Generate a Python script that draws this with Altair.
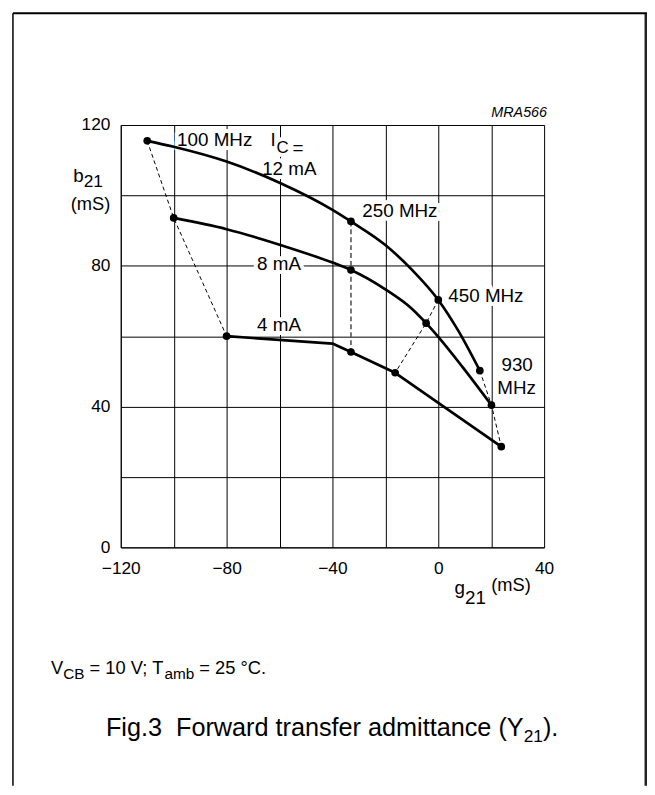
import altair as alt
import pandas as pd

FONT = "Liberation Sans"

# ---------------- data ----------------
ic_names = ["12 mA", "8 mA", "4 mA"]

# traced curves (g21 [mS], b21 [mS])
c12_g = [-110, -100, -80, -60, -40, -33, -20, -10, 0, 7.6, 15.7]
c12_b = [115.5, 113.8, 109.6, 103.6, 95.9, 92.6, 85.9, 78.9, 70.3, 61.5, 50.2]
c8_g = [-100, -80, -60, -40, -33, -20, -10, -4.6, 0, 8.9, 20.1]
c8_b = [93.6, 90.4, 86.0, 80.9, 78.8, 73.3, 67.8, 63.7, 59.8, 51.5, 40.4]
c4_g = [-80, -40, -33, -16.3, 23.8]
c4_b = [60.0, 57.9, 55.5, 49.6, 28.6]

# measured frequency points
freqs = ["100 MHz", "250 MHz", "450 MHz", "930 MHz"]
p12_g = [-110, -33, 0, 15.7]
p12_b = [115.5, 92.6, 70.3, 50.2]
p8_g = [-100, -33, -4.6, 20.1]
p8_b = [93.6, 78.8, 63.7, 40.4]
p4_g = [-80, -33, -16.3, 23.8]
p4_b = [60.0, 55.5, 49.6, 28.6]

x_grid = [-120, -100, -80, -60, -40, -20, 0, 20, 40]
y_grid = [0, 20, 40, 60, 80, 100, 120]

lbl_text = ["100 MHz", "12 mA", "8 mA", "4 mA", "250 MHz", "450 MHz", "930", "MHz"]
lbl_g = [-84.5, -56.3, -60.2, -60.2, -14.5, 18.0, 29.8, 29.6]
lbl_b = [115.6, 107.6, 80.5, 63.2, 95.6, 71.3, 51.7, 45.3]

# ---------------- tables ----------------
curve_rows = []
for name, gs, bs in [("12 mA", c12_g, c12_b), ("8 mA", c8_g, c8_b)]:
    for i, (g, b) in enumerate(zip(gs, bs)):
        curve_rows.append({"ic": name, "seq": i, "g": g, "b": b})
df_smooth = pd.DataFrame(curve_rows)
df_straight = pd.DataFrame({"ic": "4 mA", "seq": range(len(c4_g)), "g": c4_g, "b": c4_b})

pt_rows = []
for k, (name, gs, bs) in enumerate([("12 mA", p12_g, p12_b), ("8 mA", p8_g, p8_b), ("4 mA", p4_g, p4_b)]):
    for f, g, b in zip(freqs, gs, bs):
        pt_rows.append({"ic": name, "k": k, "freq": f, "g": g, "b": b})
df_pts = pd.DataFrame(pt_rows)
df_lbl = pd.DataFrame({"t": lbl_text, "g": lbl_g, "b": lbl_b})

# ---------------- scales / axes ----------------
x_scale = alt.Scale(domain=[-120, 40], nice=False, zero=False)
y_scale = alt.Scale(domain=[0, 120], nice=False, zero=False)
common_axis = dict(title=None, grid=True, gridColor="black", gridWidth=1, gridOpacity=1,
                   domainColor="black", domainWidth=1, ticks=False, tickSize=0,
                   labelFont=FONT, labelFontSize=17.5, labelColor="black",
                   labelFlush=False, labelOverlap=False,
                   labelExpr="datum.value % 40 == 0 ? datum.label : ''")
x_axis = alt.Axis(values=x_grid, labelPadding=26, labelBaseline="alphabetic", **common_axis)
y_axis = alt.Axis(values=y_grid, labelPadding=11, labelBaseline="middle", **common_axis)
X = alt.X("g:Q", scale=x_scale, axis=x_axis)
Y = alt.Y("b:Q", scale=y_scale, axis=y_axis)

# ---------------- pixel text helper ----------------
AW = {' ': 278, '(': 333, ')': 333, '.': 278, ';': 278, '=': 584, '°': 400,
      'A': 667, 'B': 667, 'C': 722, 'F': 611, 'I': 278, 'M': 833, 'S': 667, 'T': 611,
      'V': 667, 'Y': 667, 'R': 722, 'H': 722, 'a': 556, 'b': 556, 'c': 500, 'd': 556,
      'e': 556, 'f': 278, 'g': 556, 'i': 222, 'm': 833, 'n': 556, 'o': 556, 'r': 333,
      's': 500, 't': 278, 'w': 722, 'z': 500, 'h': 556, 'l': 222}


def tw(s, size):
    return sum(AW.get(ch, 556) for ch in s) * size / 1000.0


OX, OY = 122, 122  # plot origin on the page
dummy = alt.Data(values=[{"k": 0}])
halos, texts = [], []


def seg_text(segments, x0, base, halo=False):
    x = x0
    for s, size, shift, style in segments:
        lead = len(s) - len(s.lstrip(" "))
        xs = x + tw(" " * lead, size)
        body = s.strip(" ")
        if body:
            kw = dict(text=body, align="left", baseline="alphabetic", font=FONT,
                      fontSize=size, fontStyle=style)
            enc = dict(x=alt.value(xs - OX), y=alt.value(base + shift - OY))
            if halo:
                halos.append(alt.Chart(dummy).mark_text(color="white", stroke="white",
                                                        strokeWidth=8, **kw).encode(**enc))
            texts.append(alt.Chart(dummy).mark_text(color="black", **kw).encode(**enc))
        x += tw(s, size)


N, I = "normal", "italic"
# MRA566
seg_text([("MRA566", 14.5, 0, I)], 553 - tw("MRA566", 14.5), 114)
# I_C =
seg_text([("I", 19, 0, N)], 273.5, 143.5, halo=True)
seg_text([("C", 17, 0, N)], 279.5, 150.5, halo=True)
seg_text([("=", 19, 0, N)], 295.5, 151, halo=True)
# y title
seg_text([("b", 19, 0, N), ("21", 17.5, 5, N)], 74, 180)
seg_text([("(mS)", 18.5, 0, N)], 111.5 - tw("(mS)", 18.5), 208)
# x title
seg_text([("g", 19, 0, N), ("21", 19, 10, N)], 459.5, 596)
seg_text([("(mS)", 18.5, 0, N)], 496.5, 593)
# conditions
seg_text([("V", 18.5, 0, N), ("CB", 15.5, 5, N), (" = 10 V; T", 18.5, 0, N),
          ("amb", 15.5, 5, N), (" = 25 °C.", 18.5, 0, N)], 51.5, 677.5)
# caption
seg_text([("Fig.3", 25.5, 0, N)], 107, 740)
seg_text([("Forward transfer admittance (Y", 25.5, 0, N), ("21", 17.5, 6, N), (").", 25.5, 0, N)],
         107 + tw("Fig.3  ", 25.5), 740)

# ---------------- marks ----------------
lbl_halo = alt.Chart(df_lbl).mark_text(font=FONT, fontSize=19, color="white", stroke="white",
                                       strokeWidth=8, align="center", baseline="middle").encode(
    x="g:Q", y="b:Q", text="t:N")
lbl_txt = alt.Chart(df_lbl).mark_text(font=FONT, fontSize=19, color="black",
                                      align="center", baseline="middle").encode(
    x="g:Q", y="b:Q", text="t:N")

smooth = alt.Chart(df_smooth).mark_line(interpolate="monotone", color="black", strokeWidth=2.7,
                                        strokeCap="round").encode(
    x=X, y=Y, detail="ic:N", order="seq:Q")
straight = alt.Chart(df_straight).mark_line(color="black", strokeWidth=2.7,
                                            strokeJoin="round").encode(
    x="g:Q", y="b:Q", order="seq:Q")

dash_thin = alt.Chart(df_pts).transform_filter("datum.freq != '250 MHz'").mark_line(
    color="black", strokeWidth=1, strokeDash=[4, 3]).encode(
    x="g:Q", y="b:Q", detail="freq:N", order="k:Q")
dash_250 = alt.Chart(df_pts).transform_filter("datum.freq == '250 MHz'").mark_line(
    color="#555555", strokeWidth=1.6, strokeDash=[5, 3]).encode(
    x="g:Q", y="b:Q", detail="freq:N", order="k:Q")

pts = alt.Chart(df_pts).mark_circle(size=60, color="black", opacity=1).encode(x="g:Q", y="b:Q")

# outer frame
frame_left = alt.Chart(dummy).mark_rule(color="black", strokeWidth=1.5).encode(
    x=alt.value(13 - OX), y=alt.value(9 - OY), y2=alt.value(790 - OY))
frame_right = alt.Chart(dummy).mark_rule(color="#222222", strokeWidth=3).encode(
    x=alt.value(653 - OX), y=alt.value(9 - OY), y2=alt.value(790 - OY))
frame_top = alt.Chart(dummy).mark_rule(color="black", strokeWidth=2).encode(
    x=alt.value(13 - OX), x2=alt.value(654 - OX), y=alt.value(9 - OY))

chart = alt.layer(
    smooth.mark_line(opacity=0),  # carries axes/grid below
    lbl_halo, *halos,
    smooth, straight, dash_thin, dash_250, pts,
    lbl_txt, *texts,
    frame_left, frame_right, frame_top,
).properties(
    width=428, height=427,
    padding={"left": 114, "top": 114, "right": 104, "bottom": 240},
    autosize=alt.AutoSizeParams(type="none"),
    background="white",
).configure_view(stroke=None)

chart.save("out.html", embed_options={"renderer": "svg", "actions": False})
